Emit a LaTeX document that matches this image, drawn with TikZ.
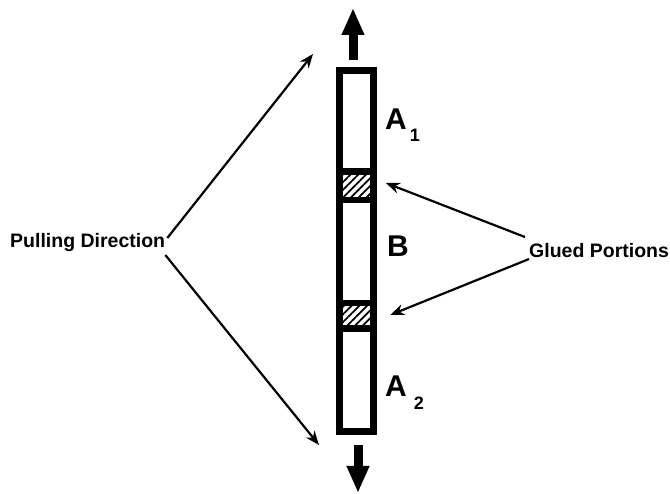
\documentclass[tikz,border=0pt]{standalone}
\usepackage{fontspec}
\setmainfont{Liberation Sans}
\usetikzlibrary{arrows.meta, patterns.meta}

\begin{document}
\begin{tikzpicture}[x=1pt, y=-1pt, font=\bfseries,
        thin arrow/.style={line width=2.2pt, -{Stealth[length=14pt, width=11pt]}},
        pull arrow/.style={line width=9pt, -{Triangle[length=27pt, width=21pt]}},
        big label/.style={anchor=base west, inner sep=0pt, font=\bfseries\fontsize{30}{30}\selectfont},
        side label/.style={anchor=base west, inner sep=0pt, font=\bfseries\fontsize{19.5}{19.5}\selectfont}]
        \useasboundingbox (0,0) rectangle (670,494);
        % strip with the two glued portions
        \node[draw, line width=6.5pt, minimum width=34pt, minimum height=361pt, inner sep=0pt] (strip) at (356.5,251) {};
        \foreach \i/\y/\h in {1/185.75/28.5, 2/315.75/25.5}
        {
            \node[draw, line width=6.5pt, minimum width=34pt, minimum height=\h pt, inner sep=0pt,
                  pattern={Lines[angle=45, distance=5.5pt, line width=1.8pt]}] (glue\i) at (356.5,\y) {};
        }
        % pulling arrows
        \coordinate (up tail) at (353,60);
        \coordinate (up head) at (353,8);
        \coordinate (down tail) at (358,445);
        \coordinate (down head) at (358,493);
        \draw[pull arrow] (up tail) -- (up head);
        \draw[pull arrow] (down tail) -- (down head);
        % labels
        \node[big label] (a1) at (385,130) {A\hspace{3pt}\raisebox{-12pt}{\fontsize{18}{18}\selectfont 1}};
        \node[big label] (b) at (387,257) {B};
        \node[big label] (a2) at (385,397) {A\hspace{7pt}\raisebox{-13pt}{\fontsize{18}{18}\selectfont 2}};
        \node[side label] (pulling) at (10,248) {Pulling Direction};
        \node[side label] (glued) at (529,258) {Glued Portions};
        % connectors
        \coordinate (up tip) at (313,54);
        \coordinate (down tip) at (319,445);
        \draw[thin arrow] ([shift={(2pt,5pt)}]pulling.east) -- (up tip);
        \draw[thin arrow] ([shift={(0pt,-12pt)}]pulling.east) -- (down tip);
        \draw[thin arrow] ([shift={(-4pt,14pt)}]glued.west) -- ([shift={(11.5pt,2.75pt)}]glue1.east);
        \draw[thin arrow] ([shift={(0pt,-8pt)}]glued.west) -- ([shift={(13.5pt,0.75pt)}]glue2.east);
\end{tikzpicture}
\end{document}
